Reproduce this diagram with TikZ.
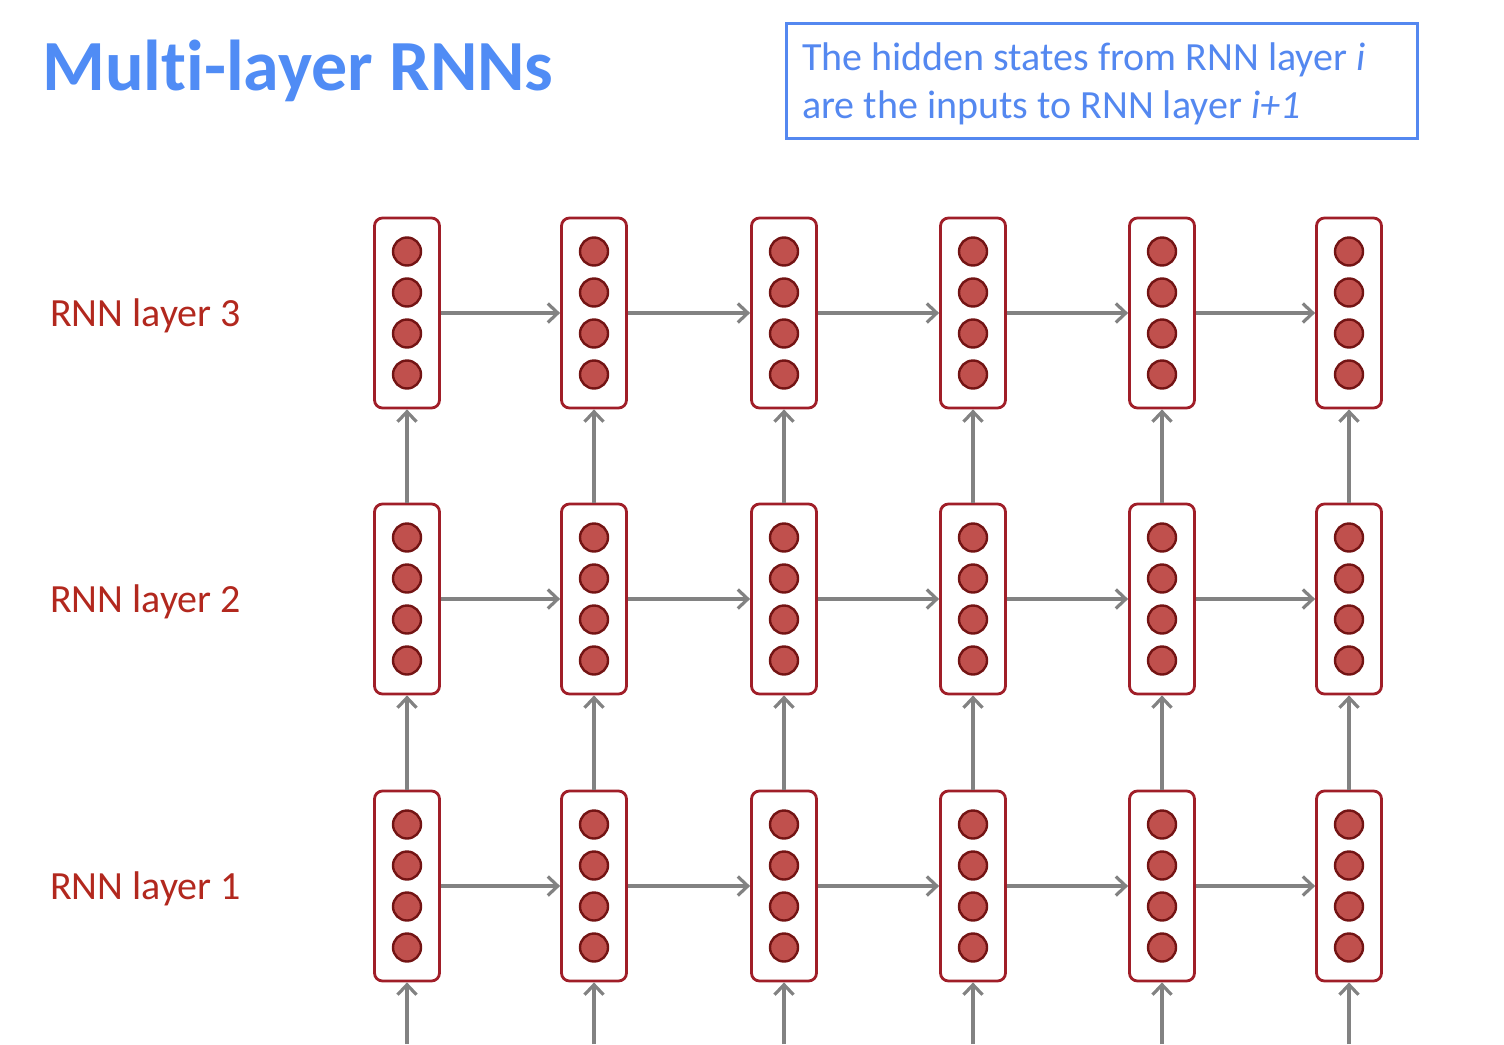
\documentclass[tikz,border=0pt]{standalone}
\usepackage{fontspec}
\setmainfont{Carlito}[Ligatures=NoCommon]
\usetikzlibrary{arrows.meta}
\definecolor{titleblue}{RGB}{80,140,245}
\definecolor{boxblue}{RGB}{84,136,240}
\definecolor{labred}{RGB}{178,40,30}
\definecolor{cellred}{RGB}{160,30,40}
\definecolor{unitred}{RGB}{192,80,77}
\definecolor{unitdark}{RGB}{115,20,20}
\definecolor{linkgray}{RGB}{130,130,130}
\tikzset{
 cell/.style={draw=cellred,line width=2.8pt,rounded corners=8pt,minimum width=65pt,minimum height=190pt,inner sep=0pt},
 unit/.style={circle,draw=unitdark,fill=unitred,line width=2.4pt,minimum size=28pt,inner sep=0pt},
 link/.style={draw=linkgray,line width=3.2pt,-{Straight Barb[length=10pt,width=19pt]}},
 laytext/.style={anchor=base west,inner sep=0pt,text=labred,font=\fontsize{40}{48}\selectfont},
 notetext/.style={anchor=base west,inner sep=0pt,text=boxblue,font=\fontsize{40}{48}\selectfont},
}
\begin{document}
\begin{tikzpicture}[x=1pt,y=-1pt]
\useasboundingbox (0,0) rectangle (1504,1044);
% titre
\node[anchor=base west,inner sep=0pt,text=titleblue,font=\fontsize{72}{86}\selectfont\bfseries] (title) at (42,90) {Multi-layer RNNs};
% encadre (haut droite)
\node[draw=boxblue,line width=2.8pt,minimum width=631pt,minimum height=115pt,anchor=north west] (note) at (785,22) {};
\node[notetext] (line1) at (802,70) {The hidden states from RNN layer \textit{i}};
\node[notetext] (line2) at (802,118) {are the inputs to RNN layer \textit{i+1}};
% couches
\foreach \r/\y in {1/886,2/599,3/313}{
 \node[laytext] (lab\r) at (50,\y+13) {RNN layer \r};
 \foreach \c/\x in {1/407,2/594,3/784,4/973,5/1162,6/1349}{
  \node[cell] (c\r\c) at (\x,\y) {};
  \foreach \k/\d in {1/-61.5,2/-20.5,3/20.5,4/61.5}
   \node[unit] (u\r\c\k) at (\x,\y+\d) {};
 }
}
% fleches horizontales
\foreach \r in {1,2,3}
 \foreach \c [count=\n from 2] in {1,...,5}
  \draw[link] (c\r\c.east) -- (c\r\n.west);
% fleches verticales
\foreach \c/\x in {1/407,2/594,3/784,4/973,5/1162,6/1349}{
 \coordinate (in\c) at (\x,1044);
 \draw[link] (in\c) -- (c1\c.south);
 \draw[link] (c1\c.north) -- (c2\c.south);
 \draw[link] (c2\c.north) -- (c3\c.south);
}
\end{tikzpicture}
\end{document}
